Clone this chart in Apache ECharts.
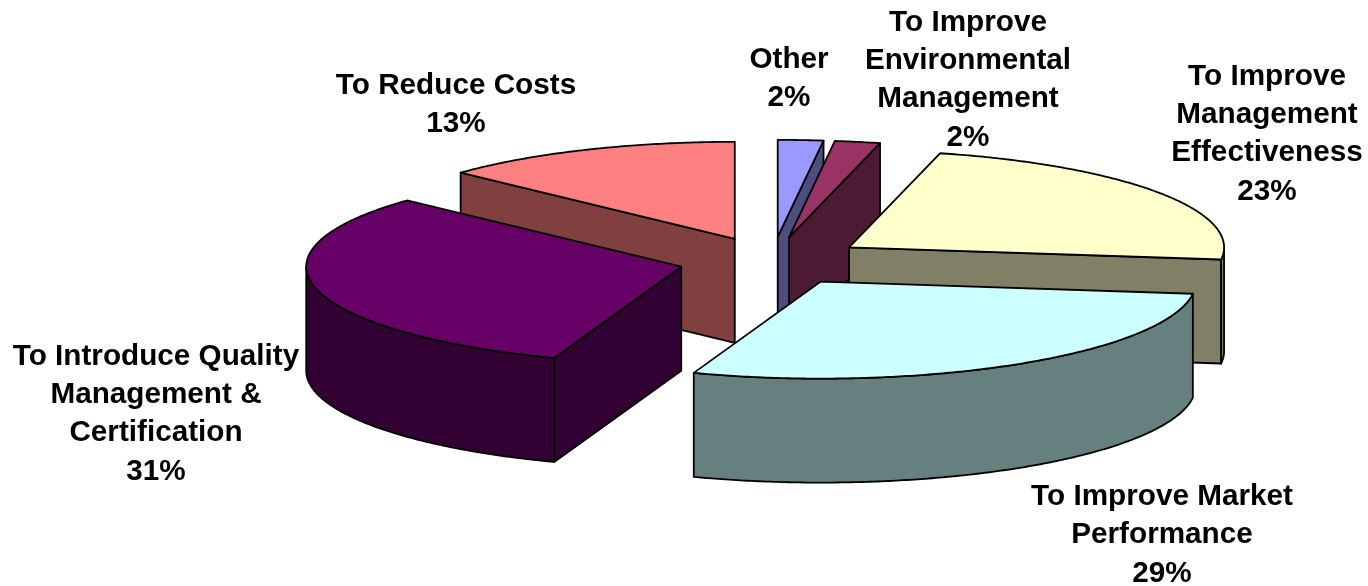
<!DOCTYPE html>
<html>
<head>
<meta charset="utf-8">
<title>Pie</title>
<style>
html,body{margin:0;padding:0;background:#fff;}
#main{width:1368px;height:586px;}
</style>
<script src="https://cdn.jsdelivr.net/npm/echarts@6/dist/echarts.min.js"></script>
</head>
<body>
<div id="main"></div>
<script>
// clockwise from 12 o'clock
var categories = ['Other', 'To Improve\nEnvironmental\nManagement', 'To Improve\nManagement\nEffectiveness', 'To Improve Market\nPerformance', 'To Introduce Quality\nManagement &\nCertification', 'To Reduce Costs'];
var values = [1.95, 1.95, 23.1, 28.5, 31.45, 13.05];
var topColors = ['#9999ff', '#993366', '#ffffcc', '#ccffff', '#660066', '#ff8080'];
var sideColors = ['#4d4d80', '#4d1a33', '#808066', '#668080', '#330033', '#804040'];
var labelCenters = [[789, 79], [968, 80], [1267, 134], [1162, 535], [156, 414], [456, 105]];

// pie projection
var cx = 772, cy = 261, rx = 375, ry = 97, depth = 104, explode = 0.249;
var lineW = 1.8;

var total = 0;
values.forEach(function(v){ total += v; });

var slices = [];
var acc = 0;
values.forEach(function(v, i){
	var a0 = acc / total * Math.PI * 2;
	acc += v;
	var a1 = acc / total * Math.PI * 2;
	var mid = (a0 + a1) / 2;
	slices.push({
		index: i,
		a0: a0,
		a1: a1,
		ox: cx + explode * rx * Math.sin(mid),
		oy: cy - explode * ry * Math.cos(mid)
	});
});
// back slices first, so the front ones cover them
var drawOrder = slices.slice().sort(function(p, q){ return p.oy - q.oy; });

function arcPoint(s, a, dy){
	return [s.ox + rx * Math.sin(a), s.oy - ry * Math.cos(a) + dy];
}

function arcPoints(s, a0, a1, dy){
	var pts = [];
	var n = Math.max(2, Math.ceil((a1 - a0) / 0.01));
	for(var i = 0; i <= n; i++){
		pts.push(arcPoint(s, a0 + (a1 - a0) * i / n, dy));
	}
	return pts;
}

function face(points, fill){
	return {
		type: 'polygon',
		shape: {points: points},
		style: {fill: fill, stroke: '#000', lineWidth: lineW, lineJoin: 'round'}
	};
}

function renderSlice(params, api){
	var s = drawOrder[api.value(0)];
	var side = sideColors[s.index];
	var apex = [s.ox, s.oy];
	var apexLow = [s.ox, s.oy + depth];
	var children = [];

	// radial walls, only those turned to the viewer
	if(Math.sin(s.a0) < -0.001){
		var p0 = arcPoint(s, s.a0, 0), q0 = arcPoint(s, s.a0, depth);
		children.push(face([apex, p0, q0, apexLow], side));
	}
	if(Math.sin(s.a1) > 0.001){
		var p1 = arcPoint(s, s.a1, 0), q1 = arcPoint(s, s.a1, depth);
		children.push(face([apex, p1, q1, apexLow], side));
	}
	// outer wall, front half of the ellipse
	var w0 = Math.max(s.a0, Math.PI / 2), w1 = Math.min(s.a1, Math.PI * 1.5);
	if(w1 > w0){
		var upper = arcPoints(s, w0, w1, 0);
		var lower = arcPoints(s, w0, w1, depth).reverse();
		children.push(face(upper.concat(lower), side));
	}
	// top
	children.push(face([apex].concat(arcPoints(s, s.a0, s.a1, 0)), topColors[s.index]));

	return {type: 'group', children: children};
}

function renderLabel(params, api){
	var i = api.value(0);
	return {
		type: 'text',
		x: labelCenters[i][0],
		y: labelCenters[i][1],
		style: {
			text: categories[i] + '\n' + Math.round(values[i]) + '%',
			fill: '#000',
			font: 'bold 29.7px "Liberation Sans", Arial, sans-serif',
			lineHeight: 38.4,
			align: 'center',
			verticalAlign: 'middle'
		}
	};
}

var myChart = echarts.init(document.getElementById('main'), null, {renderer: 'canvas'});
myChart.setOption({
	animation: false,
	backgroundColor: '#fff',
	series: [{
		type: 'custom',
		coordinateSystem: 'none',
		renderItem: renderSlice,
		data: drawOrder.map(function(s, i){ return [i, values[s.index]]; }),
		silent: true,
		z: 1
	}, {
		type: 'custom',
		coordinateSystem: 'none',
		renderItem: renderLabel,
		data: categories.map(function(c, i){ return [i]; }),
		silent: true,
		z: 2
	}]
});
</script>
</body>
</html>
